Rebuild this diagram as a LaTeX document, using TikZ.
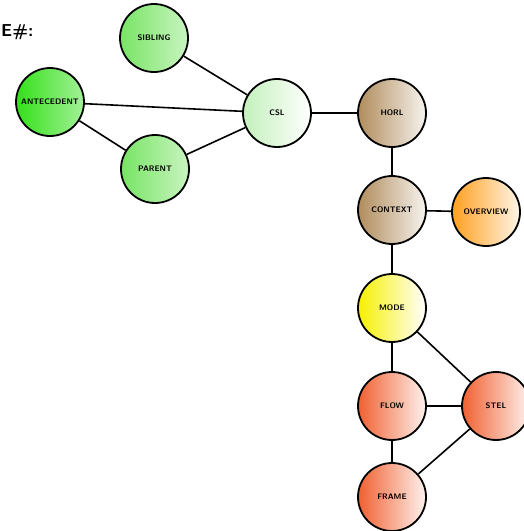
\documentclass[tikz,border=0pt]{standalone}
\begin{document}
\begin{tikzpicture}[x=1pt,y=-1pt,
    blob/.style={circle,draw=black,line width=1.8pt,minimum size=68pt,inner sep=0pt,
      font=\fontsize{8}{8}\selectfont\sffamily\bfseries,right color=white},
    link/.style={line width=1.6pt}]
  \definecolor{leafgreen}{RGB}{120,228,100}
  \definecolor{limegreen}{RGB}{52,224,26}
  \definecolor{palegreen}{RGB}{196,240,188}
  \definecolor{coretan}{RGB}{176,140,92}
  \definecolor{outorange}{RGB}{255,160,30}
  \definecolor{modeyellow}{RGB}{246,240,0}
  \definecolor{flowred}{RGB}{240,96,48}

  \clip (0,0) rectangle (524,531);
  \useasboundingbox (0,0) rectangle (524,531);

  \node[anchor=west,inner sep=0pt,font=\sffamily\bfseries\LARGE] (title) at (1,32) {E\#:};

  \node[blob,left color=leafgreen,right color=leafgreen!40] (sib) at (154,38) {SIBLING};
  \node[blob,left color=limegreen,right color=limegreen!45] (ante) at (50,102) {ANTECEDENT};
  \node[blob,left color=leafgreen,right color=leafgreen!40] (par) at (155,169) {PARENT};
  \node[blob,left color=palegreen] (csl) at (277,113) {CSL};
  \node[blob,left color=coretan,right color=coretan!10] (horl) at (392,113) {HORL};
  \node[blob,left color=coretan,right color=coretan!10] (ctx) at (392,210) {CONTEXT};
  \node[blob,left color=outorange,right color=outorange!10] (over) at (486,212) {OVERVIEW};
  \node[blob,left color=modeyellow] (mode) at (392,308) {MODE};
  \node[blob,left color=flowred,right color=flowred!8] (flow) at (392,406) {FLOW};
  \node[blob,left color=flowred,right color=flowred!8] (stel) at (496,406) {STEL};
  \node[blob,left color=flowred,right color=flowred!8] (frame) at (392,497) {FRAME};

  \draw[link] (sib) -- (csl);
  \draw[link] (ante) -- (csl);
  \draw[link] (ante) -- (par);
  \draw[link] (par) -- (csl);
  \draw[link] (csl) -- (horl);
  \draw[link] (horl) -- (ctx);
  \draw[link] (ctx) -- (over);
  \draw[link] (ctx) -- (mode);
  \draw[link] (mode) -- (flow);
  \draw[link] (mode) -- (stel);
  \draw[link] (flow) -- (stel);
  \draw[link] (flow) -- (frame);
  \draw[link] (frame) -- (stel);
\end{tikzpicture}
\end{document}
